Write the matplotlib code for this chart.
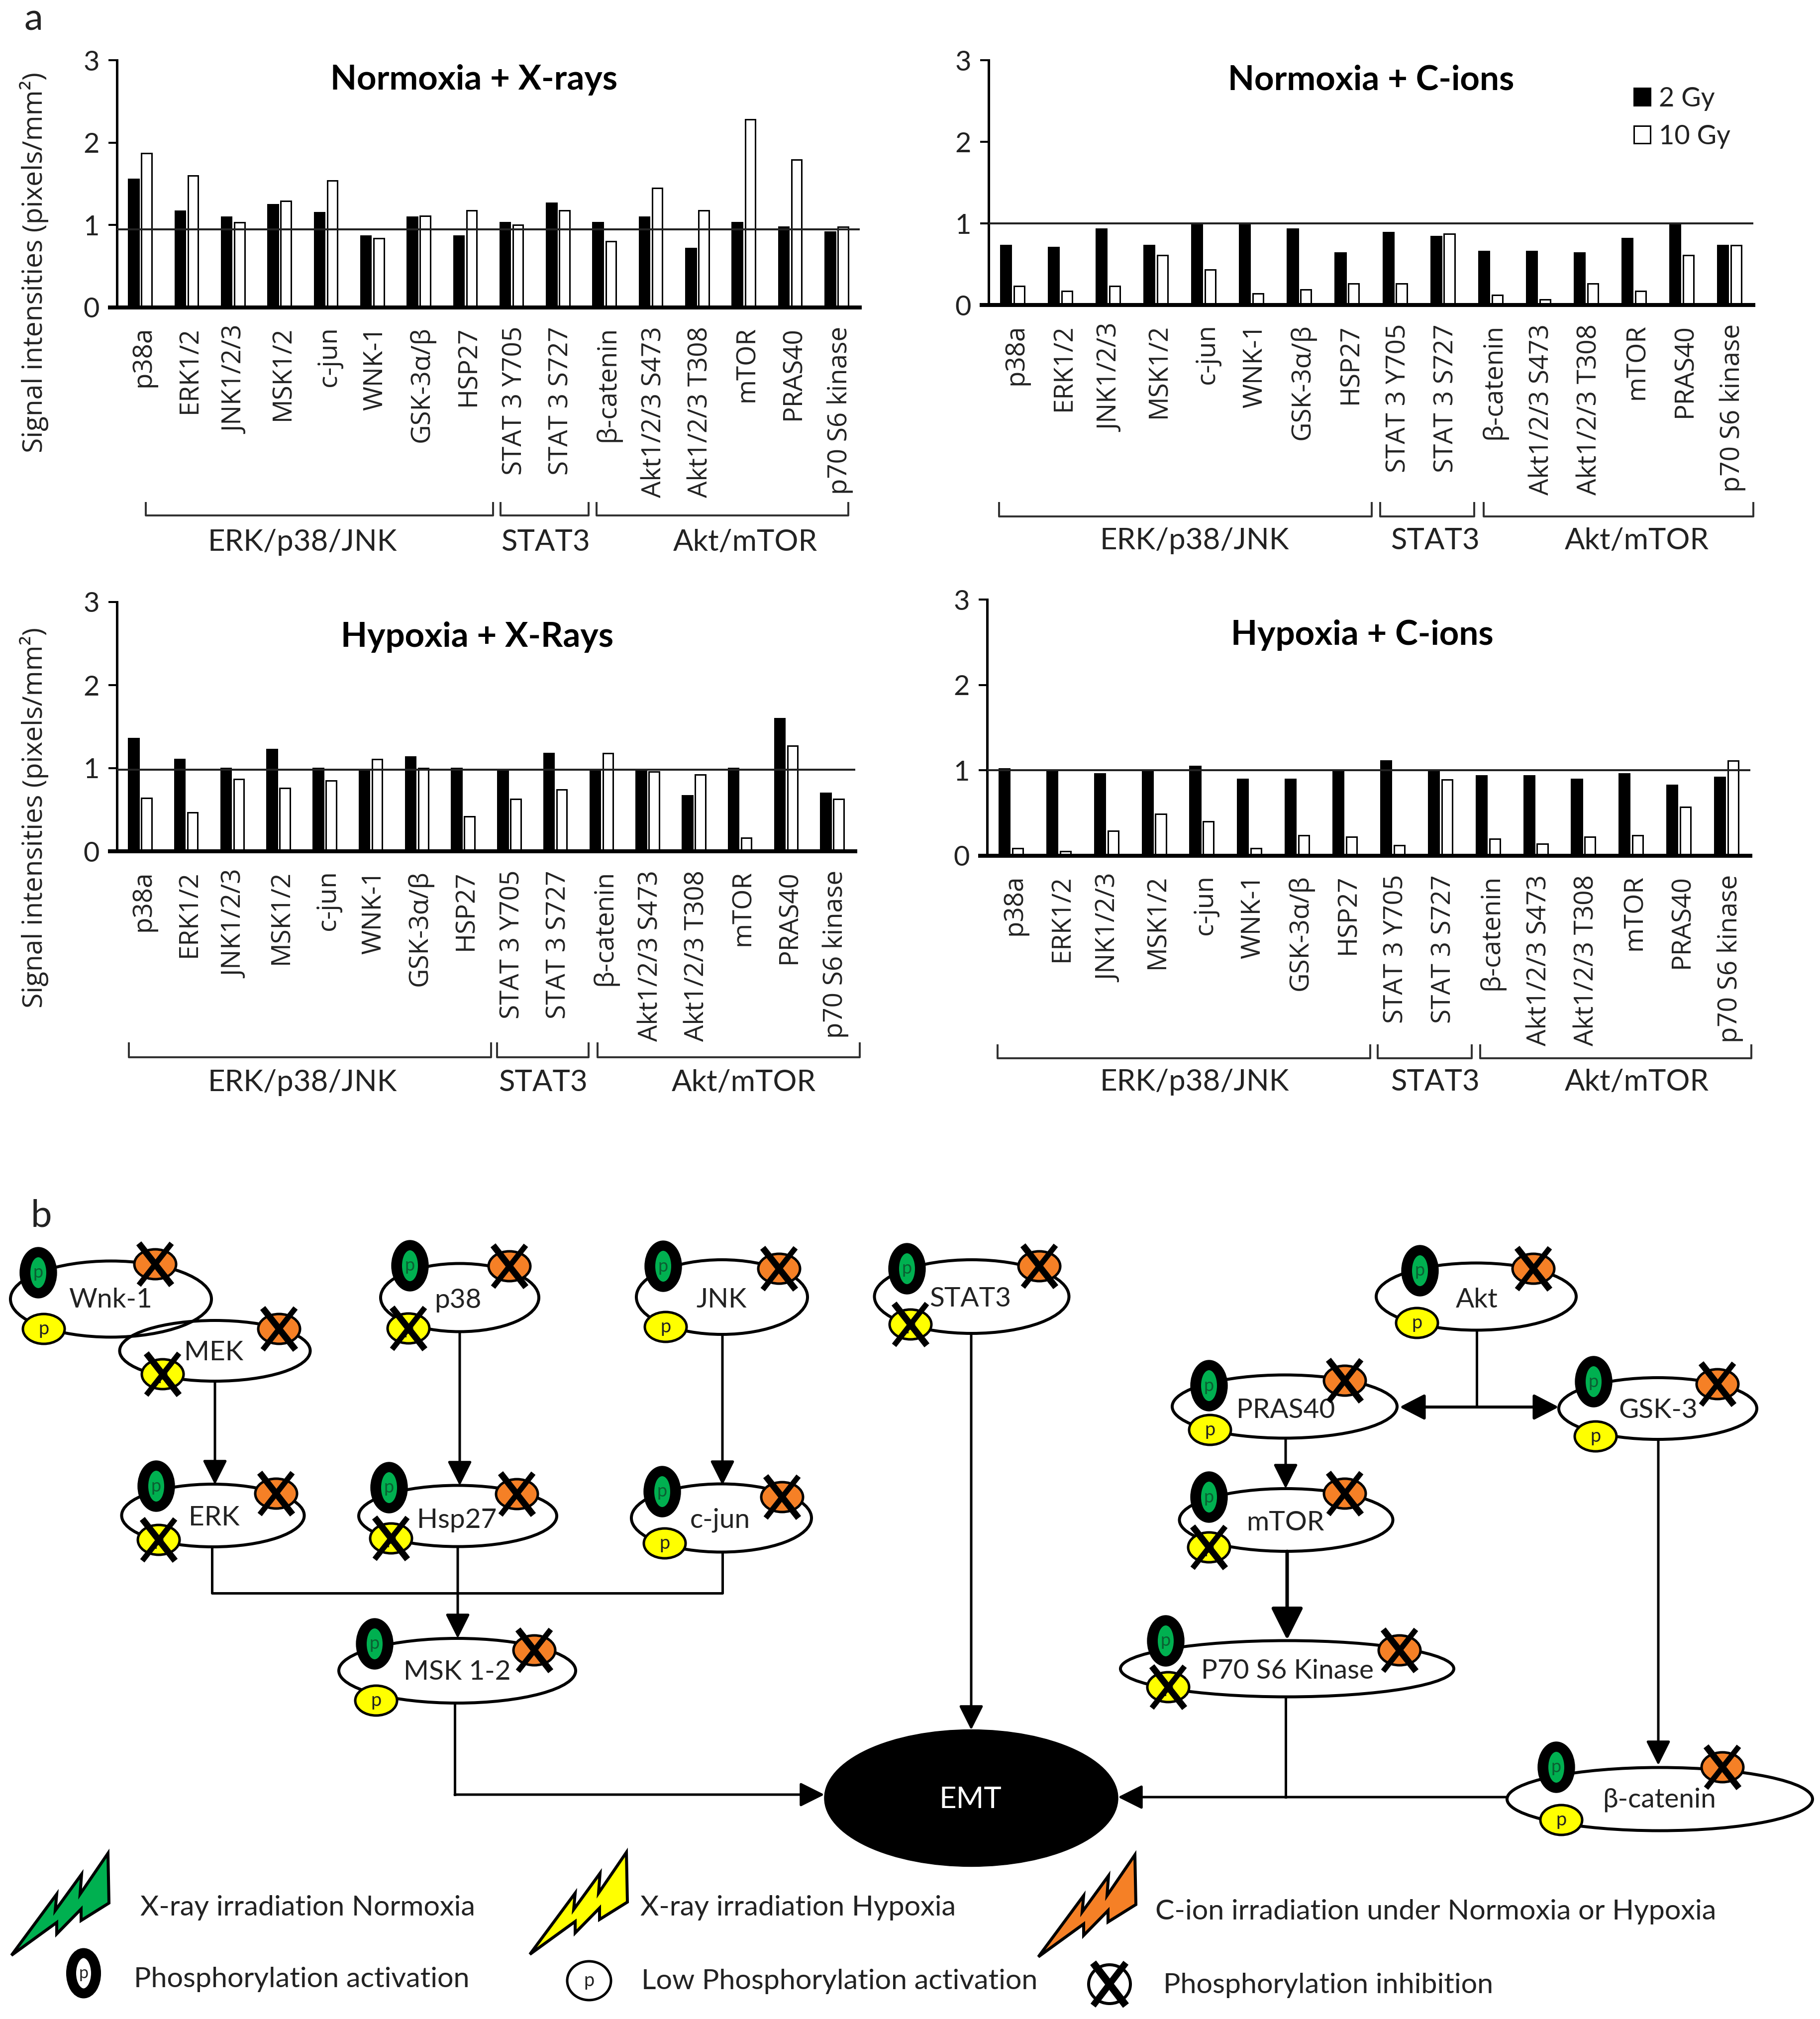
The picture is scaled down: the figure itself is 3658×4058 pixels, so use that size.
"""
Signal intensities of phosphoproteins after irradiation (a) and pathway scheme (b).
"""

import matplotlib
matplotlib.use('Agg')
import matplotlib.pyplot as plt
from matplotlib.lines import Line2D
from matplotlib.patches import Ellipse, FancyArrowPatch, Polygon, Rectangle

W, H = 3658, 4058
DPI = 100

GREEN = '#00B050'
YELLOW = '#FFFF00'
ORANGE = '#F58026'
TEXT = '#222222'

PROTEINS = ['p38a', 'ERK1/2', 'JNK1/2/3', 'MSK1/2', 'c-jun', 'WNK-1', 'GSK-3α/β', 'HSP27',
            'STAT 3 Y705', 'STAT 3 S727', 'β-catenin', 'Akt1/2/3 S473', 'Akt1/2/3 T308',
            'mTOR', 'PRAS40', 'p70 S6 kinase']
GROUPS = ['ERK/p38/JNK', 'STAT3', 'Akt/mTOR']
Y_TICKS = [0, 1, 2, 3]

norm_xray_2gy = [1.56, 1.17, 1.10, 1.25, 1.15, 0.87, 1.10, 0.87, 1.03, 1.27, 1.03, 1.10, 0.72, 1.03, 0.98, 0.92]
norm_xray_10gy = [1.87, 1.60, 1.03, 1.29, 1.54, 0.84, 1.11, 1.18, 1.00, 1.18, 0.80, 1.45, 1.18, 2.28, 1.79, 0.98]
norm_cion_2gy = [0.73, 0.71, 0.93, 0.73, 1.00, 1.00, 0.93, 0.64, 0.89, 0.84, 0.66, 0.66, 0.64, 0.82, 1.00, 0.73]
norm_cion_10gy = [0.23, 0.17, 0.23, 0.61, 0.43, 0.14, 0.19, 0.26, 0.26, 0.87, 0.12, 0.07, 0.26, 0.17, 0.61, 0.73]
hyp_xray_2gy = [1.36, 1.11, 1.00, 1.23, 1.00, 0.98, 1.14, 1.00, 0.98, 1.18, 0.98, 0.98, 0.67, 1.00, 1.60, 0.70]
hyp_xray_10gy = [0.64, 0.47, 0.87, 0.76, 0.85, 1.11, 1.00, 0.42, 0.63, 0.74, 1.18, 0.96, 0.92, 0.16, 1.27, 0.63]
hyp_cion_2gy = [1.02, 1.00, 0.96, 1.00, 1.05, 0.90, 0.90, 1.00, 1.11, 1.00, 0.94, 0.94, 0.90, 0.96, 0.83, 0.92]
hyp_cion_10gy = [0.09, 0.05, 0.29, 0.49, 0.40, 0.09, 0.24, 0.22, 0.12, 0.89, 0.20, 0.14, 0.22, 0.24, 0.57, 1.11]

# name, ellipse (cx, cy, w, h), label (x, y), green, orange, yellow, yellow crossed
NODES = [
    ('Wnk-1', (223, 2611, 404, 153), (222, 2612), (77, 2558), (312, 2541), (88, 2671), False),
    ('MEK', (432, 2715, 383, 122), (430, 2718), None, (561, 2671), (327, 2762), True),
    ('ERK', (428, 3046, 367, 126), (430, 3051), (314, 2987), (555, 3002), (319, 3095), True),
    ('p38', (924, 2608, 318, 137), (920, 2613), (824, 2544), (1024, 2545), (821, 2670), True),
    ('Hsp27', (920, 3047, 398, 123), (918, 3055), (782, 2990), (1039, 3003), (786, 3092), True),
    ('JNK', (1451, 2607, 344, 150), (1450, 2612), (1333, 2545), (1566, 2550), (1338, 2667), False),
    ('c-jun', (1450, 3051, 362, 137), (1447, 3055), (1331, 2998), (1572, 3009), (1336, 3102), False),
    ('STAT3', (1953, 2606, 391, 148), (1950, 2610), (1823, 2550), (2089, 2545), (1830, 2662), True),
    ('MSK 1-2', (919, 3358, 476, 130), (919, 3360), (753, 3304), (1074, 3317), (756, 3418), False),
    ('Akt', (2967, 2606, 402, 135), (2968, 2613), (2854, 2554), (3082, 2550), (2848, 2659), False),
    ('PRAS40', (2582, 2827, 452, 127), (2584, 2834), (2430, 2785), (2703, 2775), (2432, 2874), False),
    ('GSK-3', (3332, 2831, 398, 124), (3333, 2835), (3203, 2777), (3452, 2782), (3207, 2887), False),
    ('mTOR', (2585, 3055, 429, 126), (2583, 3061), (2430, 3009), (2703, 3002), (2430, 3110), True),
    ('P70 S6 Kinase', (2587, 3354, 670, 113), (2588, 3358), (2343, 3298), (2813, 3317), (2348, 3391), True),
    ('β-catenin', (3336, 3616, 614, 127), (3335, 3617), (3128, 3552), (3462, 3552), (3138, 3658), False),
]

# start and end of every arrow in the scheme
ARROWS = [
    ((432, 2776), (432, 2984)),
    ((924, 2677), (924, 2986)),
    ((920, 3109), (920, 3293)),
    ((1452, 2682), (1452, 2985)),
    ((1952, 2680), (1952, 3477)),
    ((3333, 2893), (3333, 3548)),
    ((2584, 2891), (2584, 2992)),
    ((914, 3607), (1657, 3607)),
    ((3029, 3612), (2247, 3612)),
]
PLAIN_LINES = [
    [(426, 3109), (426, 3202), (1452, 3202), (1452, 3120)],
    [(914, 3423), (914, 3607)],
    [(2968, 2673), (2968, 2828)],
    [(2584, 3410), (2584, 3612)],
]

BOLT = [(0, 0), (91, -123), (88, -90), (141, -163), (138, -123), (194, -205), (196, -105),
        (140, -70), (140, -93), (91, -43), (91, -66)]

LEGEND_TEXTS = [
    ('X-ray irradiation Normoxia', 282, 3834),
    ('Phosphorylation activation', 269, 3979),
    ('X-ray irradiation Hypoxia', 1287, 3834),
    ('Low Phosphorylation activation', 1289, 3982),
    ('C-ion irradiation under Normoxia or Hypoxia', 2322, 3842),
    ('Phosphorylation inhibition', 2338, 3990),
]


def pt(px):
    """Pixels of the output picture to points."""
    return px * 72.0 / DPI


plt.rcParams['font.family'] = ['Lato', 'DejaVu Sans']
fig = plt.figure(figsize=(W / DPI, H / DPI), dpi=DPI, facecolor='white')

# overlay in picture pixels for brackets and the scheme
over = fig.add_axes([0, 0, 1, 1], zorder=5)
over.set_xlim(0, W)
over.set_ylim(H, 0)
over.axis('off')


def draw_panel(rect, black, white, title, title_xy, ref, brackets, bracket_y, group_x, group_y, ylabel_y=None):
    left, top, right, bottom = rect
    ax = fig.add_axes([left / W, 1 - bottom / H, (right - left) / W, (bottom - top) / H])
    x = list(range(len(PROTEINS)))
    ax.bar([i - 0.14 for i in x], black, width=0.22, color='black', edgecolor='black', linewidth=pt(3), zorder=2)
    ax.bar([i + 0.14 for i in x], white, width=0.22, color='white', edgecolor='black', linewidth=pt(3), zorder=2)
    ax.axhline(ref, color='#222222', linewidth=pt(4), zorder=3)
    ax.set_xlim(-0.5, len(PROTEINS) - 0.5)
    ax.set_ylim(0, 3)
    ax.set_yticks(Y_TICKS)
    ax.tick_params(axis='y', labelsize=pt(56), length=pt(17), width=pt(4), pad=pt(18), labelcolor=TEXT)
    ax.set_xticks([i + 0.07 for i in x])
    ax.set_xticklabels(PROTEINS, rotation=90, family=['Open Sans', 'DejaVu Sans'], fontsize=pt(53), color=TEXT)
    ax.tick_params(axis='x', length=0, pad=pt(38))
    for side in ['top', 'right']:
        ax.spines[side].set_visible(False)
    ax.spines['left'].set_linewidth(pt(5))
    ax.spines['bottom'].set_linewidth(pt(8))
    over.plot([left - 18, left], [bottom, bottom], color='black', linewidth=pt(8), solid_capstyle='butt')

    over.text(title_xy[0], title_xy[1], title, fontsize=pt(69), fontweight='bold', color='black',
              ha='center', va='center')
    if ylabel_y is not None:
        over.text(69, ylabel_y, 'Signal intensities (pixels/mm²)', rotation=90, ha='center', va='center',
                  family=['Open Sans', 'DejaVu Sans'], fontsize=pt(55), color=TEXT)

    for (x0, x1), gx, name in zip(brackets, group_x, GROUPS):
        over.plot([x0, x0, x1, x1], [bracket_y[0], bracket_y[1], bracket_y[1], bracket_y[0]],
                  color='#333333', linewidth=pt(4), solid_joinstyle='round')
        over.text(gx, group_y, name, fontsize=pt(60), color=TEXT, ha='center', va='center')
    return ax


draw_panel((235, 121, 1728, 618), norm_xray_2gy, norm_xray_10gy, 'Normoxia + X-rays', (953, 161), 0.95,
           [(293, 991), (1006, 1183), (1199, 1705)], (1011, 1036), (608, 1096, 1498), 1090, ylabel_y=528)
ax2 = draw_panel((1987, 121, 3524, 613), norm_cion_2gy, norm_cion_10gy, 'Normoxia + C-ions', (2756, 161), 1.0,
                 [(2008, 2757), (2774, 2963), (2982, 3524)], (1011, 1038), (2401, 2884, 3290), 1087)
draw_panel((235, 1210, 1719, 1711), hyp_xray_2gy, hyp_xray_10gy, 'Hypoxia + X-Rays', (959, 1281), 0.98,
           [(259, 987), (999, 1183), (1201, 1728)], (2097, 2125), (608, 1091, 1495), 2176, ylabel_y=1643)
draw_panel((1984, 1205, 3518, 1720), hyp_cion_2gy, hyp_cion_10gy, 'Hypoxia + C-ions', (2738, 1276), 1.0,
           [(2005, 2754), (2769, 2958), (2975, 3520)], (2101, 2127), (2401, 2884, 3290), 2175)

handles = [Rectangle((0, 0), 1, 1, facecolor='black', edgecolor='black', linewidth=pt(3)),
           Rectangle((0, 0), 1, 1, facecolor='white', edgecolor='black', linewidth=pt(3))]
ax2.legend(handles, ['2 Gy', '10 Gy'], frameon=False, fontsize=pt(54), labelcolor=TEXT,
           loc='upper left', bbox_to_anchor=(3257 / W, 1 - 147 / H), bbox_transform=fig.transFigure,
           handlelength=0.62, handleheight=0.62, handletextpad=0.3, labelspacing=0.5, borderpad=0)

over.text(67, 39, 'a', fontsize=pt(76), color=TEXT, ha='center', va='center')
over.text(83, 2444, 'b', fontsize=pt(76), color=TEXT, ha='center', va='center')


def cross(x, y):
    over.add_line(Line2D([x - 33, x + 33], [y - 42, y + 42], color='black', linewidth=pt(13), solid_capstyle='butt', zorder=9))
    over.add_line(Line2D([x - 33, x + 33], [y + 42, y - 42], color='black', linewidth=pt(11), solid_capstyle='butt', zorder=9))


def green_site(x, y):
    over.add_patch(Ellipse((x, y), 74, 102, facecolor='black', edgecolor='black', zorder=7))
    over.add_patch(Ellipse((x, y), 32, 62, facecolor=GREEN, edgecolor='none', zorder=8))
    over.text(x, y, 'p', fontsize=pt(36), color='#0b5e32', ha='center', va='center', zorder=8)


def small_site(x, y, color, crossed, label=True):
    over.add_patch(Ellipse((x, y), 84, 60, facecolor=color, edgecolor='black', linewidth=pt(5), zorder=7))
    if label:
        over.text(x, y, 'p', fontsize=pt(38), color='#222222', ha='center', va='center', zorder=8)
    if crossed:
        cross(x, y)


def draw_scheme():
    for line in PLAIN_LINES:
        over.plot([p[0] for p in line], [p[1] for p in line], color='black', linewidth=pt(5), zorder=4)
    for start, end in ARROWS:
        over.add_patch(FancyArrowPatch(start, end, arrowstyle='-|>,head_length=30,head_width=15', mutation_scale=1,
                                       shrinkA=0, shrinkB=0, color='black', linewidth=pt(5), zorder=4))
    over.add_patch(FancyArrowPatch((2587, 3118), (2587, 3296), arrowstyle='-|>,head_length=40,head_width=20',
                                   mutation_scale=1, shrinkA=0, shrinkB=0, color='black', linewidth=pt(7), zorder=4))
    over.add_patch(FancyArrowPatch((2813, 2828), (3133, 2828), arrowstyle='<|-|>,head_length=31,head_width=16',
                                   mutation_scale=1, shrinkA=0, shrinkB=0, color='black', linewidth=pt(6), zorder=4))

    for name, (cx, cy, w, h), label, green, orange, yellow, crossed in NODES:
        over.add_patch(Ellipse((cx, cy), w, h, facecolor='none', edgecolor='black', linewidth=pt(6), zorder=5))
        over.text(label[0], label[1], name, fontsize=pt(55), color=TEXT, ha='center', va='center', zorder=6)
        if green is not None:
            green_site(*green)
        small_site(orange[0], orange[1], ORANGE, True, label=False)
        small_site(yellow[0], yellow[1], YELLOW, crossed)

    over.add_patch(Ellipse((1952, 3614), 590, 275, facecolor='black', edgecolor='black', zorder=5))
    over.text(1950, 3617, 'EMT', fontsize=pt(60), color='white', ha='center', va='center', zorder=6)


def draw_legend():
    for tip, color in zip([(23, 3930), (1065, 3928), (2087, 3933)], [GREEN, YELLOW, ORANGE]):
        pts = [(tip[0] + dx, tip[1] + dy) for dx, dy in BOLT]
        over.add_patch(Polygon(pts, closed=True, facecolor=color, edgecolor='black', linewidth=pt(6),
                               joinstyle='miter', zorder=5))
    for text, x, y in LEGEND_TEXTS:
        over.text(x, y, text, fontsize=pt(57.5), color=TEXT, ha='left', va='center')

    over.add_patch(Ellipse((168, 3966), 50, 81, facecolor='white', edgecolor='black', linewidth=pt(20), zorder=5))
    over.text(168, 3966, 'p', fontsize=pt(34), color='#222222', ha='center', va='center', zorder=6)
    over.add_patch(Ellipse((1184, 3981), 88, 78, facecolor='white', edgecolor='black', linewidth=pt(5), zorder=5))
    over.text(1184, 3981, 'p', fontsize=pt(38), color='#222222', ha='center', va='center', zorder=6)
    over.add_patch(Ellipse((2230, 3988), 84, 78, facecolor='white', edgecolor='black', linewidth=pt(6), zorder=5))
    over.add_line(Line2D([2197, 2263], [3945, 4031], color='black', linewidth=pt(15), solid_capstyle='butt', zorder=6))
    over.add_line(Line2D([2197, 2263], [4031, 3945], color='black', linewidth=pt(13), solid_capstyle='butt', zorder=6))


draw_scheme()
draw_legend()

plt.savefig('out.png', dpi=DPI)
